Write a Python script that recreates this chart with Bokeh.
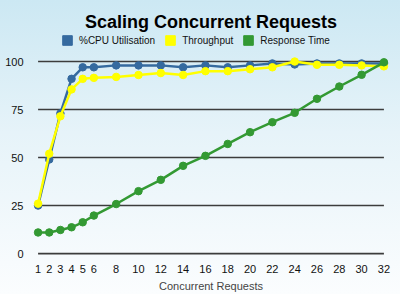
from bokeh.plotting import figure
from bokeh.models import Range1d, FixedTicker, Legend, LegendItem, InlineStyleSheet, Title
from bokeh.embed import file_html
from bokeh.resources import INLINE

requests = [1, 2, 3, 4, 5, 6, 8, 10, 12, 14, 16, 18, 20, 22, 24, 26, 28, 30, 32]
cpu = [25, 49, 73, 91, 97, 97, 98, 98, 98, 97, 98, 97, 98, 99, 98.5, 99, 99, 99, 99]
throughput = [26, 52, 71.5, 85.5, 91, 91.5, 92, 93, 94, 93, 95, 95, 96, 97, 100, 98.3, 98.3, 98, 97.5]
response = [11, 11, 12.3, 13.7, 16.3, 19.8, 25.8, 32.5, 38.4, 45.7, 50.9, 57.1, 63.2, 68.4, 73.3, 80.6, 87, 93.1, 99.6]
y_ticks = [0, 25, 50, 75, 100]
series_names = ["%CPU Utilisation", "Throughput", "Response Time"]
colors = ["#356a9f", "#ffff00", "#339933"]

FONT = "Liberation Sans"

p = figure(width=400, height=294, output_backend="svg", toolbar_location=None,
           x_range=Range1d(0.5, 32.5), y_range=Range1d(-1, 114.6),
           min_border_left=32, min_border_right=11, min_border_bottom=39, min_border_top=33)
p.background_fill_alpha = 0
p.border_fill_alpha = 0
p.outline_line_color = None
p.stylesheets = [InlineStyleSheet(css=":host { background: linear-gradient(to bottom, #cce8f3 0%, #e6f3f9 45%, #fbfdfe 100%); }")]

# grid lines as segments spanning the data extent
x0 = [requests[0]] * len(y_ticks)
x1 = [requests[-1]] * len(y_ticks)
p.segment(x0=x0, y0=y_ticks, x1=x1, y1=y_ticks, line_color="#3c3c3c", line_width=1.6)
p.xgrid.visible = False
p.ygrid.visible = False

for vals, c in zip([cpu, throughput, response], colors):
    p.line(requests, vals, line_color=c, line_width=2.5)
    p.scatter(requests, vals, size=7.5, fill_color=c, line_color=c)

# legend squares
renderers = []
for c in colors:
    renderers.append(p.quad(left=[1], right=[2], bottom=[40], top=[41], fill_color=c, line_color=c, visible=False))

legend = Legend(items=[LegendItem(label=n, renderers=[r]) for n, r in zip(series_names, renderers)],
                orientation="horizontal", location=(29, 209),
                background_fill_alpha=0, border_line_color=None,
                label_text_font=FONT, label_text_font_size="10px", label_text_color="#111111",
                glyph_width=12, glyph_height=12, label_height=12, label_standoff=6, spacing=9,
                padding=0, margin=0, click_policy="none")
p.add_layout(legend, "center")

p.title = Title(text="Scaling Concurrent Requests", align="center", text_font=FONT,
                text_font_size="18px", text_font_style="bold", text_color="#000000",
                standoff=4, offset=0)

p.xaxis.ticker = FixedTicker(ticks=requests)
p.yaxis.ticker = FixedTicker(ticks=y_ticks)
for ax in (p.xaxis[0], p.yaxis[0]):
    ax.axis_line_color = None
    ax.major_tick_line_color = None
    ax.minor_tick_line_color = None
    ax.major_label_text_font = FONT
    ax.major_label_text_font_size = "11px"
    ax.major_label_text_color = "#111111"
    ax.major_label_standoff = 3
p.xaxis.axis_label = "Concurrent Requests"
p.xaxis.axis_label_text_font = FONT
p.xaxis.axis_label_text_font_size = "11px"
p.xaxis.axis_label_text_font_style = "normal"
p.xaxis.axis_label_standoff = 4

open("out.html", "w").write(file_html(p, INLINE))
